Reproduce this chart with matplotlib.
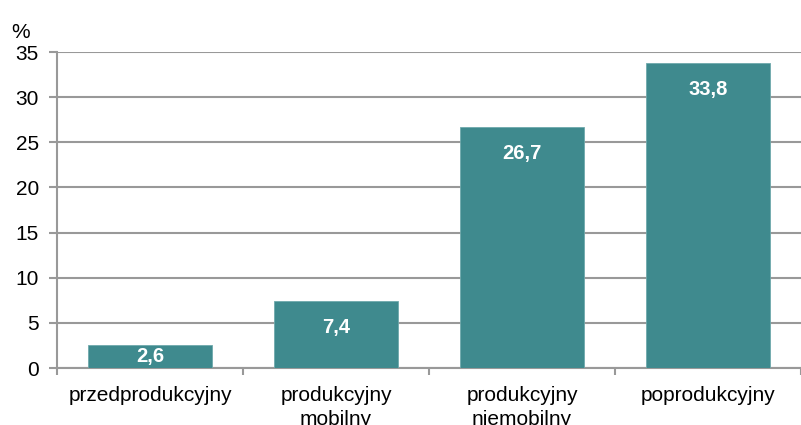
import matplotlib.pyplot as plt

plt.rcParams['font.family'] = ['Liberation Sans', 'DejaVu Sans']

categories = ['przedprodukcyjny', 'produkcyjny\nmobilny', 'produkcyjny\nniemobilny', 'poprodukcyjny']
values = [2.6, 7.4, 26.7, 33.8]
labels = ['2,6', '7,4', '26,7', '33,8']
yticks = [0, 5, 10, 15, 20, 25, 30, 35]

bar_color = '#3F8A8E'
grid_color = '#999999'

fig = plt.figure(figsize=(8.01, 4.25), dpi=100)
ax = fig.add_axes([57 / 801, 1 - 368 / 425, 1 - 57 / 801, (368 - 52) / 425])

x = list(range(len(categories)))
bars = ax.bar(x, values, width=0.665, color=bar_color, edgecolor='#6FA9AC', linewidth=0.6, zorder=3)

for b, v, lab in zip(bars, values, labels):
    cx = b.get_x() + b.get_width() / 2
    if v < 5:
        ax.text(cx, v / 2, lab, ha='center', va='center', color='white',
                fontsize=14.5, fontweight='bold', zorder=4)
    else:
        ax.annotate(lab, (cx, v), xytext=(0, -19), textcoords='offset points',
                    ha='center', va='center', color='white',
                    fontsize=14.5, fontweight='bold', zorder=4)

ax.set_ylim(0, 35)
ax.set_xlim(-0.5, 3.5 - 8 / 188)
ax.set_yticks(yticks)
ax.yaxis.grid(True, color=grid_color, linewidth=1.5, zorder=0)
ax.set_axisbelow(True)

ax.set_xticks(x)
ax.set_xticklabels(categories, fontsize=15, linespacing=1.3)
ax.set_xticks([-0.5, 0.5, 1.5, 2.5, 3.5], minor=True)
ax.tick_params(axis='x', which='major', length=0, pad=13)
ax.tick_params(axis='x', which='minor', length=5, width=1.5, color=grid_color, direction='out')
ax.tick_params(axis='y', length=6, width=1.5, color=grid_color, labelsize=15, pad=7)

for s in ['top', 'right']:
    ax.spines[s].set_visible(False)
for s in ['left', 'bottom']:
    ax.spines[s].set_color(grid_color)
    ax.spines[s].set_linewidth(1.5)

fig.text(11 / 801, 1 - 32 / 425, '%', fontsize=15, va='center', ha='left')

fig.savefig('out.png', dpi=100)
